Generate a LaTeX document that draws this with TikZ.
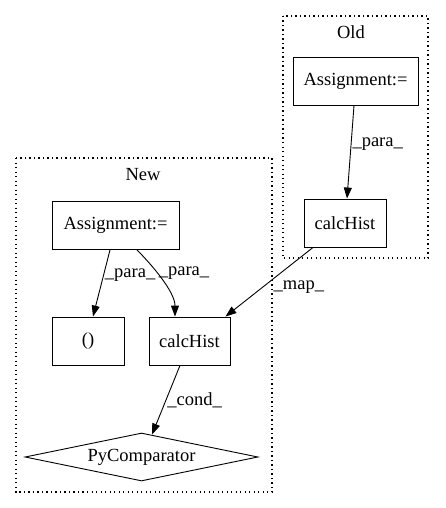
\documentclass[tikz,border=0pt]{standalone}
\usepackage{fontspec}
\setmainfont{Liberation Serif}
\usetikzlibrary{shapes.geometric,arrows.meta}
\tikzset{
  stmt/.style={draw, rectangle, inner sep=0pt, line width=0.9pt, minimum height=48pt},
  cluster/.style={draw, dash pattern=on 1.3pt off 3.2pt, line width=1.1pt},
  flow/.style={draw, line width=0.9pt, -{Triangle[length=11pt,width=8pt]}},
  elabel/.style={anchor=west, inner sep=1pt}
}
\begin{document}
\begin{tikzpicture}[x=1pt, y=-1pt, font=\fontsize{18.5}{22}\selectfont]
\useasboundingbox (0,0) rectangle (445,508);
% clusters
\draw[cluster] (283,16) rectangle (428,258);
\node (oldlbl) at (351,32) {Old};
\draw[cluster] (16,158) rectangle (272,492);
\node (newlbl) at (143,175) {New};
% Old
\node[stmt, minimum width=125pt] (asgold) at (355.5,81) {Assignment:=};
\node[stmt, minimum width=82pt] (histold) at (345,223) {calcHist};
% New
\node[stmt, minimum width=127pt] (asgnew) at (115.5,225.5) {Assignment:=};
\node[stmt, minimum width=72pt] (tuple) at (88,341) {()};
\node[stmt, minimum width=81pt] (histnew) at (189.5,341) {calcHist};
\node[draw, diamond, aspect=4.85, inner sep=0pt, line width=0.9pt,
      minimum width=233pt, minimum height=48pt] (cmp) at (141.5,457) {PyComparator};
% edges
\draw[flow] ([xshift=-1.5pt]asgold.south) -- ([xshift=2pt]histold.north)
  node[elabel, pos=0.42] {\_para\_};
\draw[flow] ([xshift=-5.5pt]asgnew.south) -- ([xshift=5pt]tuple.north)
  node[elabel, pos=0.38] {\_para\_};
\draw[flow] ([xshift=21.5pt]asgnew.south) .. controls +(14,14) and +(0,-25) ..
  ([xshift=-14.5pt]histnew.north) node[elabel, pos=0.42] {\_para\_};
\draw[flow] ([xshift=-32pt]histold.south) -- ([xshift=-5pt]histnew.north east)
  node[elabel, pos=0.58, xshift=10pt] {\_map\_};
\draw[flow] ([xshift=-9.5pt]histnew.south) -- ([xshift=10.5pt,yshift=-2pt]cmp.north)
  node[elabel, pos=0.5] {\_cond\_};
\end{tikzpicture}
\end{document}
